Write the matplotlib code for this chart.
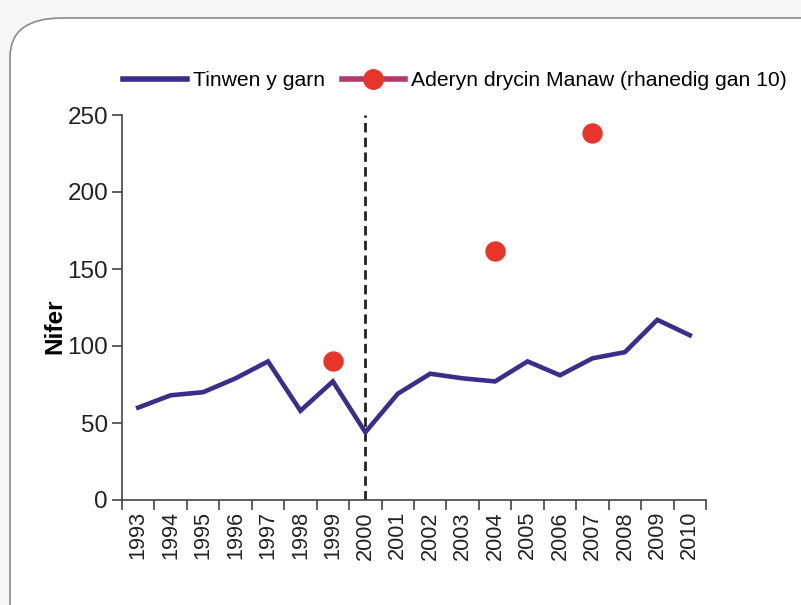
import matplotlib
matplotlib.use("Agg")

import matplotlib.pyplot as plt
from matplotlib.patches import FancyBboxPatch
from matplotlib.lines import Line2D

years = [str(y) for y in range(1993, 2011)]
tinwen = [60, 68, 70, 79, 90, 58, 77, 44, 69, 82, 79, 77, 90, 81, 92, 96, 117, 107]
aderyn_years = ["1999", "2004", "2007"]
aderyn = [90, 162, 238]

line_col = "#3a2e8c"
dot_col = "#e8352a"
leg_col = "#b03a6e"

plt.rcParams["font.family"] = ["Liberation Sans", "DejaVu Sans"]

fig = plt.figure(figsize=(8.01, 6.05), dpi=100, facecolor="#f6f6f6")

# ffrâm gron
box = FancyBboxPatch((10 / 801, -0.2), 1.2, 1.2 - 18 / 605,
                     boxstyle="round,pad=0,rounding_size=0.065",
                     transform=fig.transFigure, facecolor="white",
                     edgecolor="#8a8a8a", linewidth=1.2, zorder=-5)
fig.patches.append(box)

ax = fig.add_axes([122 / 801, 1 - 500 / 605, 584 / 801, 385 / 605])
ax.set_zorder(2)
ax.set_facecolor("none")

x = list(range(len(years)))
ax.plot(x, tinwen, color=line_col, linewidth=3.3, solid_joinstyle="miter", zorder=3)
ax_x = [years.index(y) for y in aderyn_years]
ax.scatter(ax_x, aderyn, s=215, color=dot_col, zorder=4, linewidths=0)

ax.axvline(years.index("2000"), color="#222222", linestyle=(0, (3.4, 1.9)),
           linewidth=2.0, zorder=2)

ax.set_xlim(-0.5, len(years) - 0.5)
ax.set_ylim(0, 250)
ax.set_yticks([0, 50, 100, 150, 200, 250])

ax.set_xticks([i - 0.5 for i in range(len(years) + 1)])
ax.set_xticklabels([])
ax.set_xticks(x, minor=True)
ax.set_xticklabels(years, minor=True, rotation=90, fontsize=15.7, color="#222222")
ax.tick_params(axis="x", which="minor", length=0, pad=8)
ax.tick_params(axis="x", which="major", length=7, width=1.2, color="#444444")
ax.tick_params(axis="y", length=7, width=1.2, color="#444444",
               labelsize=17.5, labelcolor="#222222", pad=3)

for s in ["top", "right"]:
    ax.spines[s].set_visible(False)
for s in ["left", "bottom"]:
    ax.spines[s].set_color("#444444")
    ax.spines[s].set_linewidth(1.2)

ax.set_ylabel("Nifer", fontsize=17.5, fontweight="bold", labelpad=2)
ax.yaxis.set_label_coords(-0.096, 0.45)

handles = [
    Line2D([], [], color=line_col, linewidth=4),
    Line2D([], [], color=leg_col, linewidth=4, marker="o", markersize=14,
           markerfacecolor=dot_col, markeredgecolor=dot_col),
]
labels = ["Tinwen y garn", "Aderyn drycin Manaw (rhanedig gan 10)"]
ax.legend(handles, labels, ncol=2, frameon=False, fontsize=15.2,
          loc="lower left", bbox_to_anchor=(0.002, 1.065),
          handlelength=3.0, handletextpad=0.3, columnspacing=0.8,
          borderaxespad=0, borderpad=0)

fig.savefig("out.png", dpi=100, facecolor=fig.get_facecolor())
